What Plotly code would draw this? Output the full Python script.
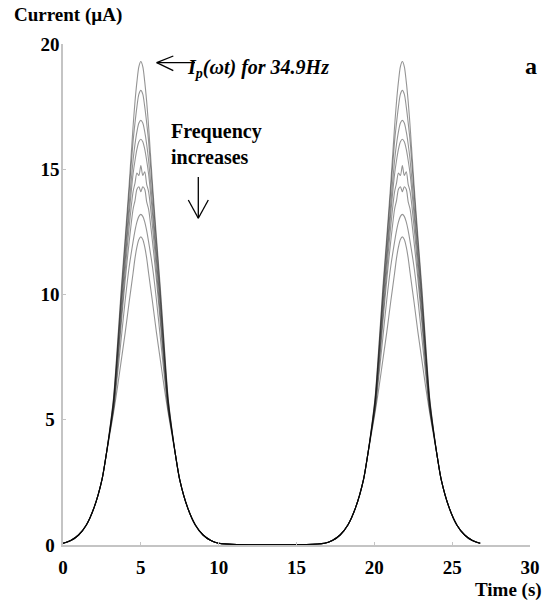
import plotly.graph_objects as go

# ---------------- data ----------------
peak_times = [5.0, 21.8]          # s, centre of each current pulse
offsets = [-5, -4.5, -4, -3.5, -3, -2.5, -2.25,
           -2, -1.75, -1.5, -1.25, -1, -0.75, -0.5, -0.375, -0.25, -0.125, 0,
           0.125, 0.25, 0.375, 0.5, 0.75, 1, 1.25, 1.5, 1.75, 2,
           2.25, 2.5, 3, 3.5, 4, 4.5, 5]   # s, relative to each peak
left_tail = [0.07, 0.18, 0.4, 0.8, 1.5, 2.6, 3.5]
right_tail = [3.5, 2.6, 1.5, 0.8, 0.4, 0.18, 0.07]
cores = {   # µA, one list per drive frequency (34.9 Hz is the highest peak)
    "34.9 Hz": [4.6, 5.9, 8.0, 10.3, 12.3, 14.4, 16.7, 17.7, 18.5, 19.1, 19.3,
                19.1, 18.5, 17.7, 16.7, 14.4, 12.3, 10.3, 8.0, 5.9, 4.6],
    "f2": [4.6, 5.85, 7.9, 10.1, 12.1, 14.1, 16.1, 16.85, 17.5, 18.0, 18.15,
           18.0, 17.5, 16.85, 16.1, 14.1, 12.1, 10.1, 7.9, 5.85, 4.6],
    "f3": [4.55, 5.8, 7.7, 9.8, 11.7, 13.6, 15.35, 16.0, 16.5, 16.85, 16.95,
           16.85, 16.5, 16.0, 15.35, 13.6, 11.7, 9.8, 7.7, 5.8, 4.55],
    "f4": [4.55, 5.7, 7.55, 9.55, 11.4, 13.2, 14.8, 15.35, 15.8, 16.1, 16.2,
           16.1, 15.8, 15.35, 14.8, 13.2, 11.4, 9.55, 7.55, 5.7, 4.55],
    "f5": [4.5, 5.6, 7.3, 9.2, 11.0, 12.7, 14.1, 14.45, 14.85, 14.75, 15.15,
           14.75, 14.9, 14.4, 14.1, 12.7, 11.0, 9.2, 7.3, 5.6, 4.5],
    "f6": [4.5, 5.5, 7.1, 8.9, 10.6, 12.1, 13.4, 13.75, 14.2, 14.3, 14.1,
           14.3, 14.2, 13.7, 13.4, 12.1, 10.6, 8.9, 7.1, 5.5, 4.5],
    "f7": [4.45, 5.4, 6.8, 8.3, 9.8, 11.1, 12.1, 12.55, 12.9, 13.12, 13.2,
           13.12, 12.9, 12.55, 12.1, 11.1, 9.8, 8.3, 6.8, 5.4, 4.45],
    "f8": [4.4, 5.3, 6.3, 7.4, 8.5, 9.7, 10.85, 11.45, 11.9, 12.2, 12.3,
           12.2, 11.9, 11.45, 10.85, 9.7, 8.5, 7.4, 6.3, 5.3, 4.4],
}
x_ticks = [0, 5, 10, 15, 20, 25, 30]
y_ticks = [0, 5, 10, 15, 20]
y_ticktext = ["0\u00a0", "5\u00a0", "10", "15", "20"]

# ---------------- figure ----------------
W, H = 544, 606
ML, MR, MT, MB = 63, 14, 44, 61
PW, PH = W - ML - MR, H - MT - MB


def pxx(xp):
    return (xp - ML) / PW


def pxy(yp):
    return (H - MB - yp) / PH


FONT = "Liberation Serif"
fig = go.Figure()

t_all = [pt + o for pt in peak_times for o in offsets]
for name, core in cores.items():
    hump = left_tail + core + right_tail
    fig.add_trace(go.Scatter(
        x=t_all, y=hump * len(peak_times), mode="lines", name=name,
        line=dict(color="rgba(0,0,0,0.42)", width=1.1, shape="spline", smoothing=0.8),
        showlegend=False, hoverinfo="skip"))

axis_common = dict(
    showgrid=False, zeroline=False, showline=True, linecolor="#c4c4c4", linewidth=1.5,
    ticks="inside", ticklen=3, tickcolor="#c4c4c4", tickwidth=1, automargin=False,
    tickfont=dict(family=FONT, size=19, color="black", weight="bold"),
)
fig.update_xaxes(range=[0, 30], tickvals=x_ticks, ticklabelstandoff=4, **axis_common)
fig.update_yaxes(range=[0, 20], tickvals=y_ticks, ticktext=y_ticktext, ticklabelstandoff=-2, **axis_common)

bold = dict(family=FONT, size=19, color="black", weight="bold")
anns = [
    dict(text="Current (µA)", x=pxx(12), y=pxy(15), xanchor="left", yanchor="middle", font=bold),
    dict(text="Time (s)", x=pxx(544), y=pxy(590), xanchor="right", yanchor="middle", font=bold),
    dict(text="a", x=pxx(531), y=pxy(66), xanchor="center", yanchor="middle",
         font=dict(family=FONT, size=24, color="black", weight="bold")),
    dict(text="Frequency<br>increases", x=pxx(169), y=pxy(144), xanchor="left", yanchor="middle",
         align="left", font=dict(family=FONT, size=20, color="black", weight="bold")),
    dict(text="<i>I<sub>p</sub>(ωt) for 34.9Hz</i>", x=pxx(185), y=pxy(68), xanchor="left",
         yanchor="middle", font=dict(family=FONT, size=20, color="black", weight="bold")),
]
for a in anns:
    fig.add_annotation(xref="paper", yref="paper", showarrow=False, **a)

# arrows drawn as thin line shapes (paper coordinates)
line_style = dict(color="black", width=1.3)
shapes = [
    # down arrow
    ((198.3, 177), (198.3, 218.3)),
    ((188.3, 200), (198.3, 218.3)),
    ((208.3, 200), (198.3, 218.3)),
    # left arrow
    ((156.7, 62.7), (195, 62.7)),
    ((156.7, 62.7), (173.3, 56)),
    ((156.7, 62.7), (173.3, 70.7)),
]
for (x0, y0), (x1, y1) in shapes:
    fig.add_shape(type="line", xref="paper", yref="paper",
                  x0=pxx(x0), y0=pxy(y0), x1=pxx(x1), y1=pxy(y1), line=line_style)

fig.update_layout(
    width=W, height=H, margin=dict(l=ML, r=MR, t=MT, b=MB, autoexpand=False),
    paper_bgcolor="white", plot_bgcolor="white",
)
fig.write_html("out.html")
